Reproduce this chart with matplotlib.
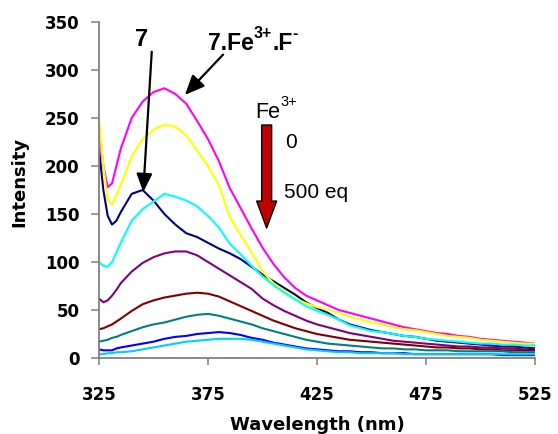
import matplotlib
matplotlib.use('Agg')
import matplotlib.pyplot as plt

# emission spectra, 7 + Fe3+ titration
wavelength = [325, 327, 329, 331, 333, 335, 340, 345, 350, 355, 360, 365, 370, 375,
              380, 385, 390, 395, 400, 405, 410, 415, 420, 425, 430, 435, 440, 445,
              450, 455, 460, 465, 470, 475, 480, 485, 490, 495, 500, 505, 510, 515,
              520, 525]

i_free = [218, 175, 148, 139, 143, 152, 171, 175, 164, 150, 139, 130, 126, 120,
          114, 109, 103, 95, 87, 80, 73, 66, 58, 52, 47, 40, 35, 32,
          29, 27, 25, 23, 22, 20, 18, 17, 16, 15, 14, 13, 12, 12, 11, 10]
i_fe_f = [240, 200, 178, 182, 200, 218, 250, 267, 277, 281, 275, 265, 247, 228,
          205, 177, 156, 135, 115, 98, 84, 73, 65, 60, 55, 50, 47, 44,
          41, 38, 35, 32, 30, 28, 26, 25, 23, 22, 20, 19, 18, 17, 16, 15]
i_yellow = [250, 200, 165, 160, 170, 180, 210, 228, 238, 243, 241, 232, 216, 200,
            180, 147, 128, 110, 90, 78, 70, 62, 57, 53, 50, 47, 43, 40,
            37, 35, 32, 30, 29, 27, 25, 23, 22, 21, 19, 18, 17, 16, 15, 15]
i_cyan = [100, 96, 95, 100, 110, 120, 143, 155, 163, 171, 168, 164, 158, 148,
          136, 119, 108, 96, 85, 76, 68, 61, 54, 49, 45, 40, 34, 31,
          28, 27, 25, 23, 22, 20, 19, 18, 17, 16, 15, 15, 14, 14, 13, 13]
i_purple = [62, 58, 60, 65, 71, 78, 90, 99, 105, 109, 111, 111, 107, 100,
            93, 86, 79, 72, 62, 55, 49, 44, 39, 35, 32, 29, 26, 24,
            22, 20, 18, 17, 16, 15, 14, 13, 12, 12, 11, 11, 10, 10, 9, 9]
i_maroon = [30, 31, 33, 35, 38, 41, 49, 56, 60, 63, 65, 67, 68, 67,
            64, 59, 54, 49, 44, 39, 35, 31, 28, 25, 23, 21, 19, 18,
            17, 16, 15, 14, 13, 12, 11, 11, 10, 10, 9, 9, 8, 8, 8, 8]
i_teal = [17, 18, 19, 21, 22, 24, 28, 32, 35, 37, 40, 43, 45, 46,
          44, 41, 38, 35, 31, 28, 25, 22, 19, 17, 15, 14, 13, 12,
          11, 10, 10, 9, 9, 8, 8, 8, 7, 7, 7, 7, 7, 6, 6, 6]
i_blue = [9, 8, 8, 8, 10, 11, 13, 15, 17, 20, 22, 23, 25, 26,
          27, 26, 24, 21, 19, 16, 14, 12, 10, 9, 8, 7, 7, 6,
          6, 5, 5, 5, 4, 4, 4, 4, 4, 4, 4, 4, 3, 3, 3, 3]
i_sky = [4, 4, 5, 5, 6, 6, 7, 9, 11, 13, 15, 17, 18, 19,
         20, 20, 20, 19, 17, 15, 13, 11, 9, 8, 7, 6, 6, 5,
         5, 5, 5, 4, 4, 4, 4, 4, 4, 4, 4, 4, 4, 4, 4, 4]

series = [i_free, i_fe_f, i_yellow, i_cyan, i_purple, i_maroon, i_teal, i_blue, i_sky]
colors = ['#000080', '#FF00FF', '#FFFF00', '#00FFFF', '#800080',
          '#800000', '#008080', '#0000FF', '#00CCFF']

fig = plt.figure(figsize=(5.58, 4.34), dpi=100)
ax = fig.add_axes([0.1774, 0.1751, 0.7814, 0.7742])

for y, c in zip(series, colors):
    ax.plot(wavelength, y, color=c, lw=1.5)

ax.set_xlim(325, 525)
ax.set_ylim(0, 350)
ax.set_xticks([325, 375, 425, 475, 525])
ax.set_yticks(range(0, 351, 50))
for s in ['top', 'right']:
    ax.spines[s].set_visible(False)
for s in ['left', 'bottom']:
    ax.spines[s].set_color('#808080')
    ax.spines[s].set_linewidth(1.3)
ax.tick_params(axis='x', direction='out', length=5, width=1.1, color='#808080',
               pad=15, labelsize=12)
ax.tick_params(axis='y', direction='out', length=6, width=1.1, color='#808080',
               pad=8, labelsize=12)
for lab in ax.get_xticklabels() + ax.get_yticklabels():
    lab.set_fontweight('bold')

ax.set_xlabel('Wavelength (nm)', fontsize=13, fontweight='bold', labelpad=9)
ax.set_ylabel('Intensity', fontsize=13, fontweight='bold')
ax.yaxis.set_label_coords(-0.163, 0.525)

renderer = fig.canvas.get_renderer()


def chain_text(x, y, parts, weight='normal'):
    # write pieces one after the other, superscripts raised by 'rise' points
    off = 0
    for s, size, rise in parts:
        t = ax.annotate(s, xy=(x, y), xytext=(off, rise), textcoords='offset points',
                        ha='left', va='baseline', fontsize=size, fontweight=weight,
                        family='Liberation Sans')
        off += t.get_window_extent(renderer).width * 72 / fig.dpi


# labels + arrows
ax.text(344.5, 332, '7', ha='center', va='center', family='Liberation Sans',
        fontweight='bold', fontsize=17)
ax.annotate('', xy=(345.3, 173), xytext=(349.2, 319),
            arrowprops=dict(arrowstyle='-|>,head_length=0.55,head_width=0.24',
                            color='black', lw=1.6, mutation_scale=20,
                            shrinkA=0, shrinkB=0))
chain_text(375.0, 320.8, [('7.Fe', 16.5, 0), ('3+', 11.5, 8.6), ('.F', 16.5, 0),
                          ('-', 11.5, 8.6)], weight='bold')
ax.annotate('', xy=(364.4, 274), xytext=(381.9, 316),
            arrowprops=dict(arrowstyle='-|>,head_length=0.6,head_width=0.26',
                            color='black', lw=1.6, mutation_scale=20,
                            shrinkA=0, shrinkB=0))

chain_text(396.6, 250, [('Fe', 15.5, 0), ('3+', 10.5, 9)])
ax.annotate('', xy=(401.9, 135.4), xytext=(401.9, 242.7),
            arrowprops=dict(arrowstyle='simple,head_length=0.97,head_width=0.72,tail_width=0.36',
                            fc='#C00000', ec='black', lw=1, mutation_scale=20,
                            shrinkA=0, shrinkB=0))
ax.text(410.3, 225, '0', ha='left', va='center', family='Liberation Sans', fontsize=15)
ax.text(409.9, 172, '500 eq', ha='left', va='center', family='Liberation Sans',
        fontsize=15)

fig.savefig('out.png', dpi=100)
